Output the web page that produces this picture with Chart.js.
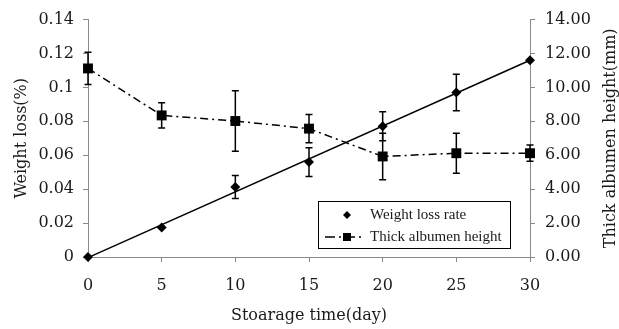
<!DOCTYPE html>
<html>
<head>
<meta charset="utf-8">
<script src="https://cdn.jsdelivr.net/npm/chart.js@4/dist/chart.umd.min.js"></script>
<style>
  html, body { margin: 0; padding: 0; background: #fff; }
  canvas { display: block; }
</style>
</head>
<body>
<canvas id="myChart" width="619" height="329"></canvas>
<script>
// storage days
const days = [0, 5, 10, 15, 20, 25, 30];
// weight loss (%) with standard error
const weightLoss = [0, 0.0174, 0.0413, 0.056, 0.0771, 0.097, 0.116];
const weightErr = [0, 0, 0.0068, 0.0085, 0.0085, 0.0107, 0];
// thick albumen height (mm) with standard error
const albumen = [11.12, 8.35, 8.02, 7.57, 5.93, 6.12, 6.12];
const albumenErr = [0.95, 0.74, 1.79, 0.83, 1.37, 1.18, 0.48];
// tick labels
const xTicks = ['0', '5', '10', '15', '20', '25', '30'];
const leftTicks = ['0', '0.02', '0.04', '0.06', '0.08', '0.1', '0.12', '0.14'];
const rightTicks = ['0.00', '2.00', '4.00', '6.00', '8.00', '10.00', '12.00', '14.00'];

const FONT = '"DejaVu Serif", "Liberation Serif", serif';
const LEGEND_FONT = '"Liberation Serif", serif';
const TEXT = '#1a1a1a';
const AXIS = '#8a8a8a';

// linear trend line for the weight loss series
function trend(xs, ys) {
    const n = xs.length;
    const mx = xs.reduce((a, b) => a + b, 0) / n;
    const my = ys.reduce((a, b) => a + b, 0) / n;
    let sxy = 0, sxx = 0;
    for (let i = 0; i < n; i++) {
        sxy += (xs[i] - mx) * (ys[i] - my);
        sxx += (xs[i] - mx) * (xs[i] - mx);
    }
    const m = sxy / sxx;
    const b = my - m * mx;
    const x0 = xs[0], x1 = xs[n - 1];
    return [{ x: x0, y: b + m * x0 }, { x: x1, y: b + m * x1 }];
}

const errorBars = {
    id: 'errorBars',
    afterDatasetsDraw(chart) {
        const ctx = chart.ctx;
        chart.data.datasets.forEach(function (ds, i) {
            if (!ds.errors) return;
            const xs = chart.scales.x;
            const ys = chart.scales[ds.yAxisID];
            ctx.save();
            ctx.strokeStyle = '#000';
            ctx.lineWidth = 1.5;
            ds.data.forEach(function (p, j) {
                const e = ds.errors[j];
                if (!e) return;
                const px = xs.getPixelForValue(p.x);
                const top = ys.getPixelForValue(p.y + e);
                const bot = ys.getPixelForValue(p.y - e);
                ctx.beginPath();
                ctx.moveTo(px, top); ctx.lineTo(px, bot);
                ctx.moveTo(px - 3.5, top); ctx.lineTo(px + 3.5, top);
                ctx.moveTo(px - 3.5, bot); ctx.lineTo(px + 3.5, bot);
                ctx.stroke();
            });
            ctx.restore();
        });
    }
};

const titlesAndLegend = {
    id: 'titlesAndLegend',
    afterDraw(chart) {
        const ctx = chart.ctx;
        const area = chart.chartArea;
        ctx.save();
        ctx.fillStyle = TEXT;
        ctx.font = '16px ' + FONT;
        ctx.textAlign = 'center';
        ctx.textBaseline = 'middle';
        const midY = (area.top + area.bottom) / 2;

        ctx.save();
        ctx.translate(22, midY);
        ctx.rotate(-Math.PI / 2);
        ctx.fillText('Weight loss(%)', 0, 0);
        ctx.restore();

        ctx.save();
        ctx.translate(611, midY);
        ctx.rotate(-Math.PI / 2);
        ctx.fillText('Thick albumen height(mm)', 0, 0);
        ctx.restore();

        ctx.fillText('Stoarage time(day)', (area.left + area.right) / 2, 316);

        // legend box
        const bw = 192, bh = 47;
        const bx = area.right - 20 - bw;
        const by = area.bottom - 9 - bh;
        ctx.fillStyle = '#fff';
        ctx.fillRect(bx, by, bw, bh);
        ctx.strokeStyle = '#000';
        ctx.lineWidth = 1;
        ctx.strokeRect(bx + 0.5, by + 0.5, bw, bh);

        const mx = bx + 29;
        const y1 = by + 14, y2 = by + 36;
        ctx.fillStyle = '#000';
        ctx.beginPath();
        ctx.moveTo(mx, y1 - 4); ctx.lineTo(mx + 4, y1);
        ctx.lineTo(mx, y1 + 4); ctx.lineTo(mx - 4, y1);
        ctx.closePath();
        ctx.fill();

        ctx.lineWidth = 1.5;
        ctx.setLineDash([10, 4, 2, 4]);
        ctx.beginPath();
        ctx.moveTo(bx + 7, y2); ctx.lineTo(bx + 44, y2);
        ctx.stroke();
        ctx.setLineDash([]);
        ctx.fillRect(mx - 4, y2 - 4, 8, 8);

        ctx.fillStyle = TEXT;
        ctx.font = '15px ' + LEGEND_FONT;
        ctx.textAlign = 'left';
        ctx.fillText(chart.data.datasets[0].label, bx + 52, y1);
        ctx.fillText(chart.data.datasets[1].label, bx + 52, y2);
        ctx.restore();
    }
};

const ctx = document.getElementById('myChart').getContext('2d');

new Chart(ctx, {
    type: 'line',
    data: {
        datasets: [{
            label: 'Weight loss rate',
            data: days.map((d, i) => ({ x: d, y: weightLoss[i] })),
            errors: weightErr,
            yAxisID: 'y',
            showLine: false,
            pointStyle: 'rectRot',
            pointRadius: 5,
            pointBackgroundColor: '#000',
            pointBorderColor: '#000',
            pointBorderWidth: 0,
            clip: false
        }, {
            label: 'Thick albumen height',
            data: days.map((d, i) => ({ x: d, y: albumen[i] })),
            errors: albumenErr,
            yAxisID: 'y2',
            borderColor: '#000',
            borderWidth: 1.5,
            borderDash: [8, 4, 2, 4],
            pointStyle: 'rect',
            pointRadius: 7,
            pointBackgroundColor: '#000',
            pointBorderColor: '#000',
            pointBorderWidth: 0,
            clip: false
        }, {
            label: 'trend',
            data: trend(days, weightLoss),
            yAxisID: 'y',
            borderColor: '#000',
            borderWidth: 1.5,
            pointRadius: 0,
            clip: false
        }]
    },
    options: {
        responsive: false,
        animation: false,
        layout: { padding: { top: 16, left: 0, right: 0, bottom: 0 } },
        plugins: {
            legend: { display: false },
            tooltip: { enabled: false }
        },
        scales: {
            x: {
                type: 'linear',
                min: 0,
                max: 30,
                afterFit: s => { s.height = 72; },
                afterBuildTicks: s => { s.ticks = days.map(v => ({ value: v })); },
                ticks: {
                    callback: (v, i) => xTicks[i],
                    color: TEXT,
                    font: { family: FONT, size: 16 },
                    padding: 14,
                    maxRotation: 0
                },
                grid: { drawOnChartArea: false, drawTicks: true, tickLength: 5, color: AXIS },
                border: { color: AXIS, width: 1 }
            },
            y: {
                position: 'left',
                min: 0,
                max: 0.14,
                afterFit: s => { s.width = 88; },
                afterBuildTicks: s => { s.ticks = leftTicks.map((t, i) => ({ value: i * 0.02 })); },
                ticks: {
                    callback: (v, i) => leftTicks[i],
                    color: TEXT,
                    font: { family: FONT, size: 16 },
                    padding: 9
                },
                grid: { drawOnChartArea: false, drawTicks: true, tickLength: 5, color: AXIS },
                border: { color: AXIS, width: 1 }
            },
            y2: {
                position: 'right',
                min: 0,
                max: 14,
                afterFit: s => { s.width = 89; },
                afterBuildTicks: s => { s.ticks = rightTicks.map((t, i) => ({ value: i * 2 })); },
                ticks: {
                    callback: (v, i) => rightTicks[i],
                    color: TEXT,
                    font: { family: FONT, size: 16 },
                    padding: 10
                },
                grid: { drawOnChartArea: false, drawTicks: true, tickLength: 5, color: AXIS },
                border: { color: AXIS, width: 1 }
            }
        }
    },
    plugins: [errorBars, titlesAndLegend]
});
</script>
</body>
</html>
